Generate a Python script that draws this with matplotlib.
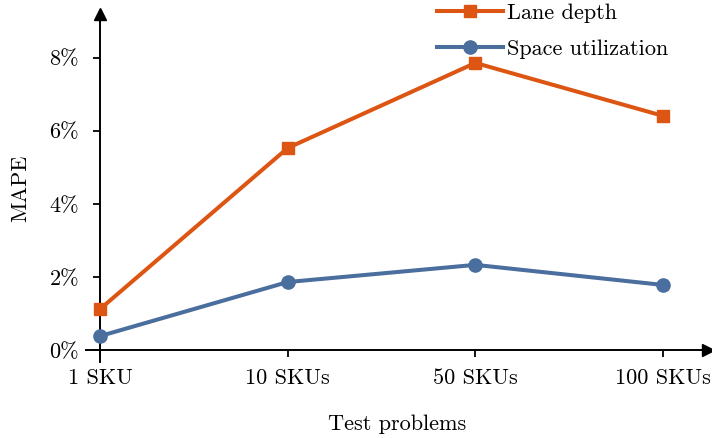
import matplotlib
matplotlib.use('Agg')
import matplotlib.pyplot as plt

plt.rcParams['font.family'] = 'cmr10'
plt.rcParams['mathtext.fontset'] = 'cm'
plt.rcParams['axes.unicode_minus'] = False
plt.rcParams['font.size'] = 16

categories = ['1 SKU', '10 SKUs', '50 SKUs', '100 SKUs']
lane_depth = [1.12, 5.53, 7.86, 6.41]
space_util = [0.38, 1.86, 2.33, 1.78]
yticks = [0, 2, 4, 6, 8]

orange = '#DD5512'
blue = '#4A6E9D'

fig = plt.figure(figsize=(7.12, 4.38), dpi=100)
ax = fig.add_axes([86 / 712, 1 - 362 / 438, (708 - 86) / 712, (362 - 14) / 438])

x = range(len(categories))
ax.plot(x, lane_depth, color=orange, lw=2.9, marker='s', ms=9, label='Lane depth', clip_on=False, zorder=3)
ax.plot(x, space_util, color=blue, lw=2.9, marker='o', ms=9.5, label='Space utilization', clip_on=False, zorder=3)

ax.set_xlim(-0.075, 3.24)
ax.set_ylim(-0.33, 9.2)

for s in ['top', 'right']:
    ax.spines[s].set_visible(False)
ax.spines['left'].set_position(('data', 0))
ax.spines['bottom'].set_position(('data', 0))
ax.spines['left'].set_linewidth(1.4)
ax.spines['bottom'].set_linewidth(1.4)

# arrow heads
ax.plot(1, 0, '>k', ms=8, transform=ax.get_yaxis_transform(), clip_on=False)
ax.plot(0, 1, '^k', ms=8, transform=ax.get_xaxis_transform(), clip_on=False)

ax.set_xticks(list(x))
ax.set_xticklabels(categories)
ax.set_yticks(yticks)
ax.set_yticklabels([f'{v}%' for v in yticks])
ax.tick_params(direction='out', length=5, width=1.3)
ax.tick_params(axis='x', pad=8)
ax.tick_params(axis='y', pad=10)

ax.set_xlabel('Test problems')
ax.set_ylabel('MAPE')
ax.xaxis.set_label_coords(0.5, -0.15)
ax.yaxis.set_label_coords(-0.09, 0.5)

ax.legend(loc='upper right', bbox_to_anchor=(0.95, 1.057), frameon=False,
          handlelength=3.0, borderaxespad=0, labelspacing=0.75, handletextpad=0.15)

fig.savefig('out.png', dpi=100)
